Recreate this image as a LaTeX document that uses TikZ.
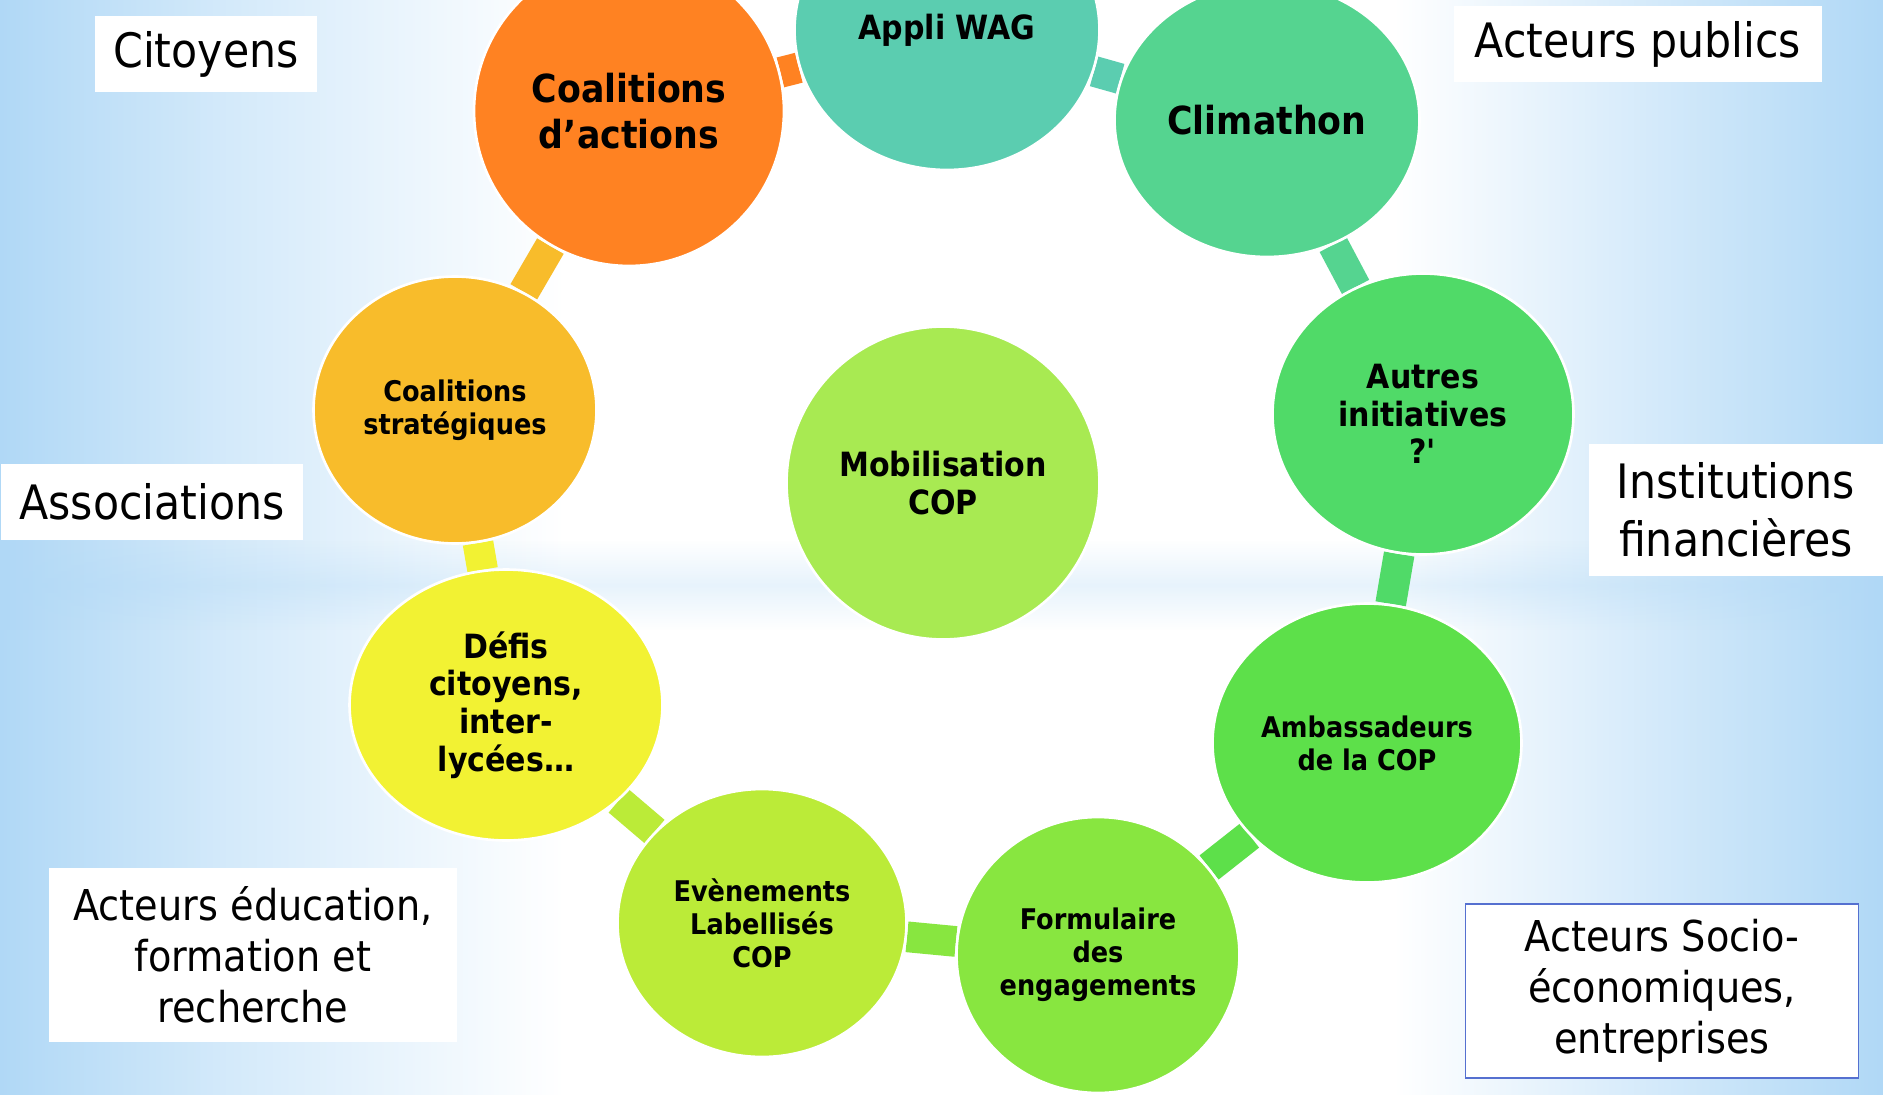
\documentclass[tikz,border=0pt]{standalone}
\usepackage{fontspec}
\setmainfont{DejaVu Sans}[FakeStretch=0.9]
\usetikzlibrary{shapes.geometric,backgrounds,fadings}

\definecolor{bgblue}{HTML}{B0D8F6}
\definecolor{socioblue}{HTML}{5570D0}
\definecolor{cactions}{HTML}{FF8222}
\definecolor{cappli}{HTML}{5BCDB0}
\definecolor{cclimathon}{HTML}{55D490}
\definecolor{cautres}{HTML}{50DA68}
\definecolor{cambass}{HTML}{5DE04A}
\definecolor{cform}{HTML}{88E640}
\definecolor{cevents}{HTML}{BBEB38}
\definecolor{cdefis}{HTML}{F2F233}
\definecolor{cstrat}{HTML}{F8BC2B}
\definecolor{cmobil}{HTML}{A8EA52}

\pgfdeclarehorizontalshading{skyshade}{100bp}{color(0bp)=(bgblue); color(25bp)=(bgblue); color(31bp)=(bgblue!55!white); color(40bp)=(white); color(62bp)=(white); color(69bp)=(bgblue!55!white); color(75bp)=(bgblue); color(100bp)=(bgblue)}
\tikzfading[name=bandfade, top color=transparent!100, bottom color=transparent!100, middle color=transparent!70]

\begin{document}
\begin{tikzpicture}[x=0.02cm, y=-0.02cm,
    bubble/.style = {ellipse, draw=white, line width=1.5pt, align=center, inner sep=0pt},
    bigtext/.style = {font=\bfseries\fontsize{22}{26}\selectfont},
    midtext/.style = {font=\bfseries\fontsize{19}{21.5}\selectfont},
    smalltext/.style = {font=\bfseries\fontsize{16.2}{18.7}\selectfont},
    link/.style = {line width=17.5pt},
    tag/.style = {fill=white, align=center, inner sep=0pt, font=\fontsize{27}{29.5}\selectfont},
    longtag/.style = {tag, font=\fontsize{24.2}{29}\selectfont}]

    \useasboundingbox (0,0) rectangle (1883,1095);

    % sky
    \begin{pgfonlayer}{background}
        \shade[shading=skyshade] (0,0) rectangle (1883,1095);
        \fill[bgblue, path fading=bandfade] (0,540) rectangle (1883,630);
    \end{pgfonlayer}

    % cycle
    \node[bubble, bigtext, fill=cactions, minimum width=6.2cm, minimum height=6.2cm] (actions) at (629,111) {Coalitions\\d’actions};
    \node[bubble, midtext, fill=cappli, minimum width=6.1cm, minimum height=5.6cm] (appli) at (947,30) {Appli WAG};
    \node[bubble, bigtext, fill=cclimathon, minimum width=6.1cm, minimum height=5.48cm] (climathon) at (1267,120) {Climathon};
    \node[bubble, midtext, fill=cautres, minimum width=6.02cm, minimum height=5.62cm] (autres) at (1423,414) {Autres\\initiatives\\?\textquotesingle};
    \node[bubble, smalltext, fill=cambass, minimum width=6.18cm, minimum height=5.58cm] (ambass) at (1367,743) {Ambassadeurs\\de la COP};
    \node[bubble, smalltext, fill=cform, minimum width=5.66cm, minimum height=5.52cm] (form) at (1098,955) {Formulaire\\des\\engagements};
    \node[bubble, smalltext, fill=cevents, minimum width=5.78cm, minimum height=5.36cm] (events) at (762,923) {Evènements\\Labellisés\\COP};
    \node[bubble, midtext, fill=cdefis, minimum width=6.26cm, minimum height=5.42cm] (defis) at (506,705) {Défis\\citoyens,\\inter-\\lycées…};
    \node[bubble, smalltext, fill=cstrat, minimum width=5.66cm, minimum height=5.34cm] (strat) at (455,410) {Coalitions\\stratégiques};

    % centre
    \node[bubble, midtext, fill=cmobil, minimum width=6.26cm, minimum height=6.26cm] (mobil) at (943,483) {Mobilisation\\COP};

    % links
    \begin{pgfonlayer}{background}
        \draw[link, cactions] (actions) -- (appli);
        \draw[link, cappli] (appli) -- (climathon);
        \draw[link, cclimathon] (climathon) -- (autres);
        \draw[link, cautres] (autres) -- (ambass);
        \draw[link, cambass] (ambass) -- (form);
        \draw[link, cform] (form) -- (events);
        \draw[link, cevents] (events) -- (defis);
        \draw[link, cdefis] (defis) -- (strat);
        \draw[link, cstrat] (strat) -- (actions);
    \end{pgfonlayer}

    % actors
    \node[tag, minimum width=4.46cm, minimum height=1.52cm] (citoyens) at (206,54) {Citoyens};
    \node[tag, minimum width=7.38cm, minimum height=1.54cm] (publics) at (1638,44) {Acteurs publics};
    \node[tag, minimum width=6.06cm, minimum height=1.52cm] (assoc) at (152,502) {Associations};
    \node[tag, minimum width=5.88cm, minimum height=2.66cm, font=\fontsize{27}{33}\selectfont] (finance) at (1736,510) {Institutions\\financières};
    \node[longtag, minimum width=8.18cm, minimum height=3.48cm] (educ) at (253,955) {Acteurs éducation,\\formation et\\recherche};
    \node[longtag, draw=socioblue, line width=0.8pt, minimum width=7.86cm, minimum height=3.48cm] (socio) at (1662,991) {Acteurs Socio-\\économiques,\\entreprises};

\end{tikzpicture}
\end{document}
